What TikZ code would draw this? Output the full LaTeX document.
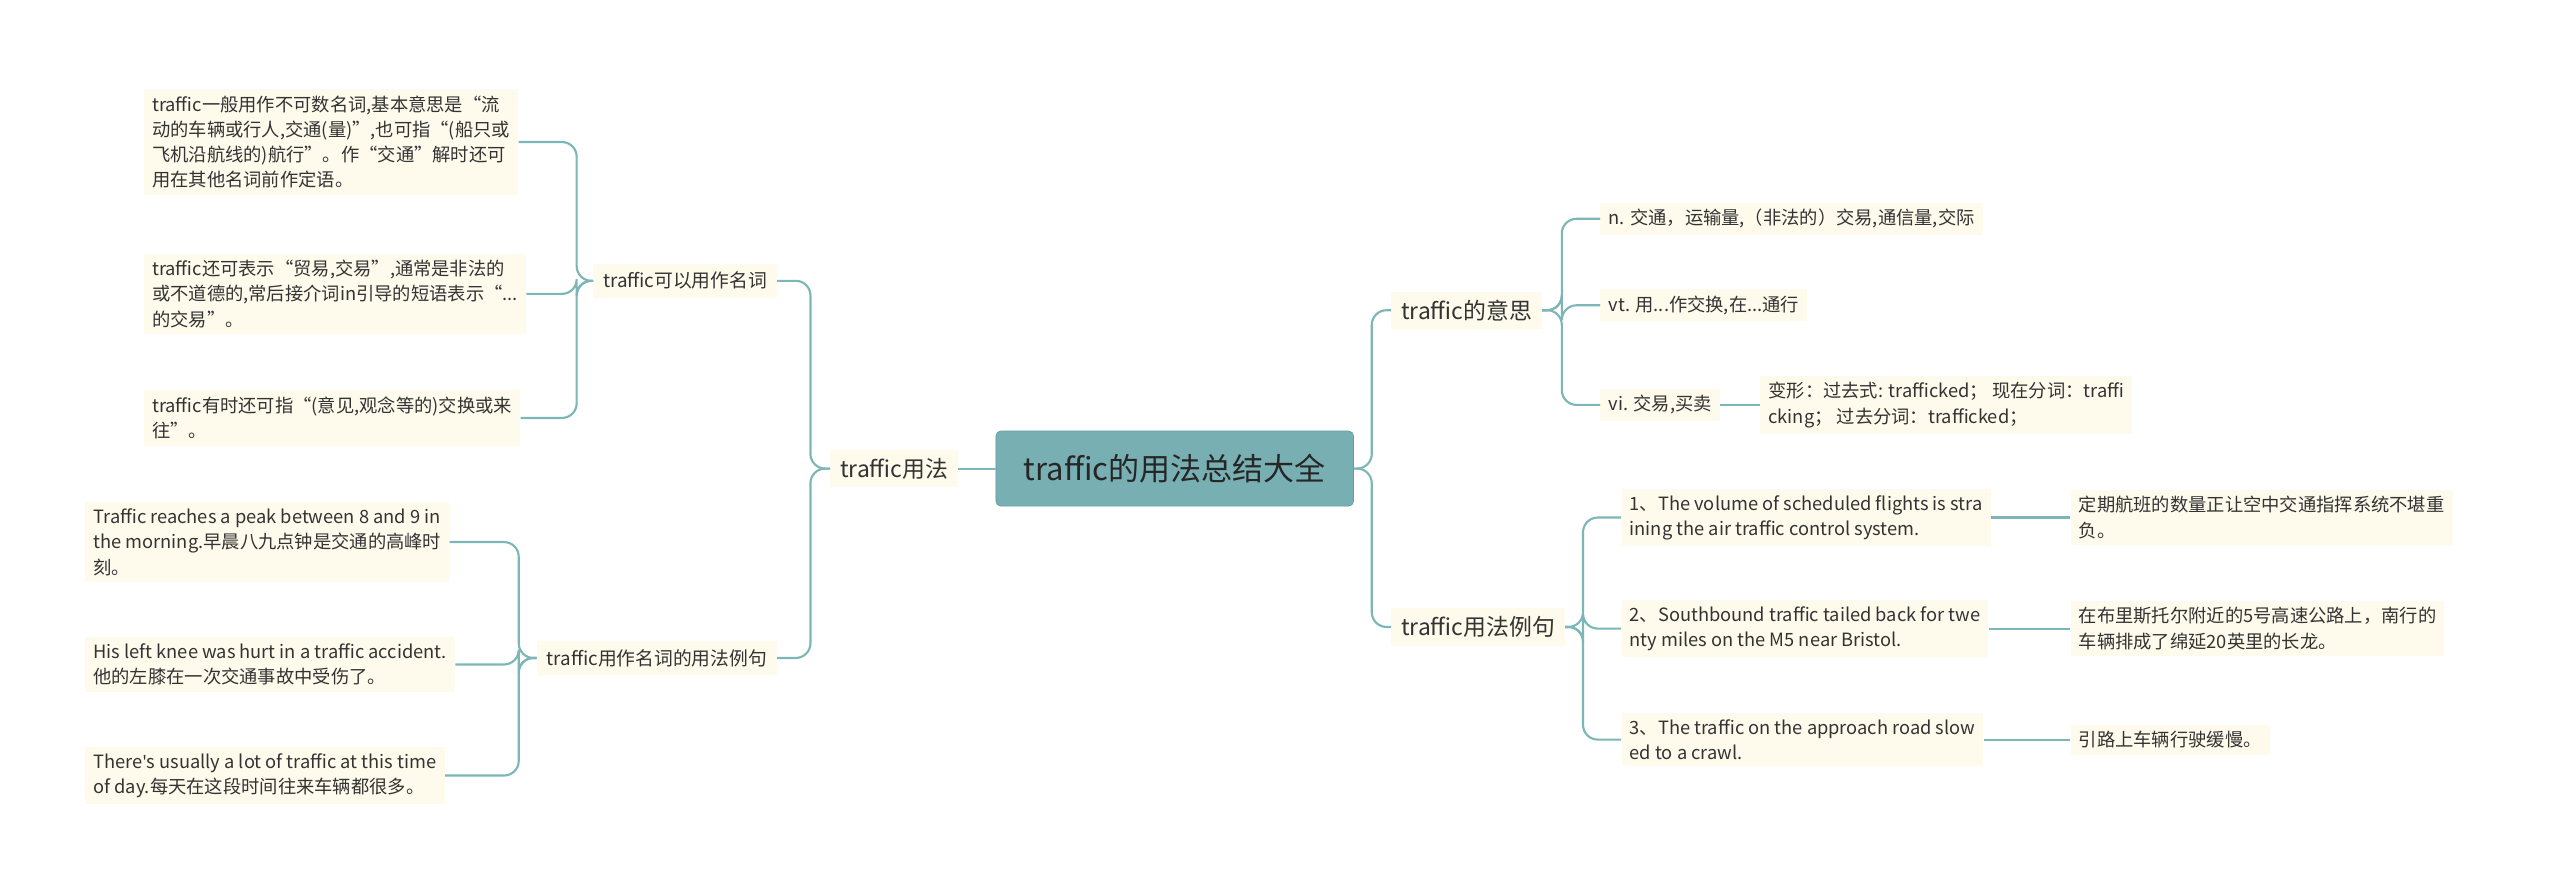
\documentclass[tikz,border=0pt]{standalone}
\usepackage{fontspec}
\setmainfont{Noto Sans CJK SC}
\newfontfamily\lat{Noto Sans}
\definecolor{ln}{HTML}{7DB6B6}
\definecolor{rootf}{HTML}{78AFB2}
\definecolor{rootb}{HTML}{5E9EA2}
\definecolor{bx}{HTML}{FEFAEC}
\definecolor{tx}{HTML}{333333}
\tikzset{
  leaf/.style={fill=bx,text=tx,font=\fontsize{11.2}{15.5}\selectfont,align=left,inner xsep=5pt,inner ysep=4pt},
  mid/.style={fill=bx,text=tx,font=\fontsize{14}{17}\selectfont,inner xsep=6pt,inner ysep=5pt},
  sub/.style={fill=bx,text=tx,font=\fontsize{11.5}{15}\selectfont,inner xsep=6pt,inner ysep=5pt},
  rootbox/.style={fill=rootf,draw=rootb,rounded corners=3pt,text=black!85,font=\fontsize{19}{22}\selectfont,minimum width=219pt,minimum height=46pt},
  con/.style={draw=ln,line width=1.3pt,rounded corners=9pt}
}
\begin{document}
\begin{tikzpicture}[x=1pt,y=-1pt]
\useasboundingbox[fill=white] (0,0) rectangle (1568,548);
\node[rootbox] (root) at (719.5,287) {traffic的用法总结大全};
% left
\node[mid,anchor=east] (yf) at (587,287) {traffic用法};
\node[sub,anchor=east] (mc) at (476,172) {traffic可以用作名词};
\node[sub,anchor=east] (lj) at (476,403) {traffic用作名词的用法例句};
\node[leaf,anchor=west] (a1) at (88,87) {traffic一般用作不可数名词,基本意思是“流\\动的车辆或行人,交通(量)”,也可指“(船只或\\飞机沿航线的)航行”。作“交通”解时还可\\用在其他名词前作定语。};
\node[leaf,anchor=west] (a2) at (88,180) {traffic还可表示“贸易,交易”,通常是非法的\\或不道德的,常后接介词in引导的短语表示“...\\的交易”。};
\node[leaf,anchor=west] (a3) at (88,256) {traffic有时还可指“(意见,观念等的)交换或来\\往”。};
\node[leaf,anchor=west] (b1) at (52,332) {Traffic reaches a peak between 8 and 9 in\\ the morning.早晨八九点钟是交通的高峰时\\刻。};
\node[leaf,anchor=west] (b2) at (52,407) {His left knee was hurt in a traffic accident.\\他的左膝在一次交通事故中受伤了。};
\node[leaf,anchor=west] (b3) at (52,475) {There{\lat\char"27}s usually a lot of traffic at this time\\of day.每天在这段时间往来车辆都很多。};
% right
\node[mid,anchor=west] (ys) at (852,190) {traffic的意思};
\node[mid,anchor=west] (lj2) at (852,384) {traffic用法例句};
\node[leaf,anchor=west] (n) at (980,134) {n. 交通，运输量,（非法的）交易,通信量,交际};
\node[leaf,anchor=west] (vt) at (980,187) {vt. 用...作交换,在...通行};
\node[leaf,anchor=west] (vi) at (980,248) {vi. 交易,买卖};
\node[leaf,anchor=west] (bx) at (1078,248) {变形：过去式: trafficked；\ 现在分词：traffi\\cking；\ 过去分词：trafficked；};
\node[leaf,anchor=west] (s1) at (993,317) {1、The volume of scheduled flights is stra\\ining the air traffic control system.};
\node[leaf,anchor=west] (s2) at (993,385) {2、Southbound traffic tailed back for twe\\nty miles on the M5 near Bristol.};
\node[leaf,anchor=west] (s3) at (993,453) {3、The traffic on the approach road slow\\ed to a crawl.};
\node[leaf,anchor=west] (t1) at (1268,317) {定期航班的数量正让空中交通指挥系统不堪重\\负。};
\node[leaf,anchor=west] (t2) at (1268,385) {在布里斯托尔附近的5号高速公路上，南行的\\车辆排成了绵延20英里的长龙。};
\node[leaf,anchor=west] (t3) at (1268,453) {引路上车辆行驶缓慢。};
% connectors
\draw[con] (root.west) -- (yf.east);
\foreach \c in {mc,lj} \draw[con] (yf.west) -- ++(-12,0) |- (\c.east);
\foreach \c in {a1,a2,a3} \draw[con] (mc.west) -- ++(-10,0) |- (\c.east);
\foreach \c in {b1,b2,b3} \draw[con] (lj.west) -- ++(-11,0) |- (\c.east);
\foreach \c in {ys,lj2} \draw[con] (root.east) -- ++(11,0) |- (\c.west);
\foreach \c in {n,vt,vi} \draw[con] (ys.east) -- ++(12,0) |- (\c.west);
\draw[con] (vi.east) -- (bx.west);
\foreach \c in {s1,s2,s3} \draw[con] (lj2.east) -- ++(11,0) |- (\c.west);
\draw[con] (s1.east) -- (t1.west);
\draw[con] (s2.east) -- (t2.west);
\draw[con] (s3.east) -- (t3.west);
\end{tikzpicture}
\end{document}
